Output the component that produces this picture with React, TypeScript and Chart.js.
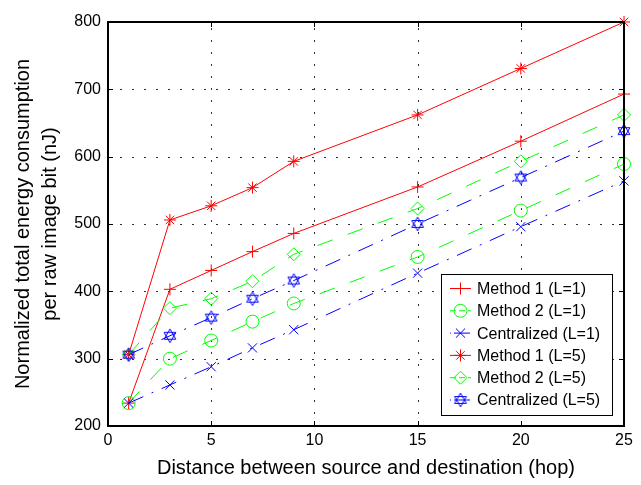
import React, { useEffect, useRef } from 'react';
import { Chart, registerables } from 'chart.js';
Chart.register(...registerables);

const hops = [1, 3, 5, 7, 9, 15, 20, 25];
const method1L1 = [234, 403, 431, 459, 486, 555, 623, 693];
const method2L1 = [234, 300, 327, 355, 382, 451, 520, 589];
const centralL1 = [234, 261, 288, 316, 343, 427, 496, 564];
const method1L5 = [306, 506, 527, 554, 593, 662, 731, 800];
const method2L5 = [306, 375, 389, 415, 455, 523, 593, 662];
const centralL5 = [306, 334, 361, 389, 416, 500, 569, 638];

const seriesLabels = [
  'Method 1 (L=1)',
  'Method 2 (L=1)',
  'Centralized (L=1)',
  'Method 1 (L=5)',
  'Method 2 (L=5)',
  'Centralized (L=5)',
];
const xTicks = [0, 5, 10, 15, 20, 25];
const yTicks = [200, 300, 400, 500, 600, 700, 800];
const xTitle = 'Distance between source and destination (hop)';
const yTitleLines = ['Normalized total energy consumption', 'per raw image bit (nJ)'];

const FONT = "'Liberation Sans', Arial, Helvetica, sans-serif";
const RED = '#ff0000';
const GREEN = '#00ff00';
const BLUE = '#0000ff';

function makeHexagram(color: string): HTMLCanvasElement {
  const c = document.createElement('canvas');
  c.width = 16;
  c.height = 16;
  const ctx = c.getContext('2d')!;
  ctx.strokeStyle = color;
  ctx.lineWidth = 1;
  const cx = 8, cy = 8, r = 6.8;
  const tri = (start: number) => {
    ctx.beginPath();
    for (let k = 0; k < 3; k++) {
      const a = ((start + k * 120) * Math.PI) / 180;
      const px = cx + r * Math.cos(a);
      const py = cy + r * Math.sin(a);
      if (k === 0) ctx.moveTo(px, py);
      else ctx.lineTo(px, py);
    }
    ctx.closePath();
    ctx.stroke();
  };
  tri(-90);
  tri(90);
  return c;
}

type Spec = { color: string; style: any; radius: number; dash: number[] };

function drawMarker(ctx: CanvasRenderingContext2D, spec: Spec, x: number, y: number) {
  const r = spec.radius;
  ctx.save();
  ctx.setLineDash([]);
  ctx.strokeStyle = spec.color;
  ctx.lineWidth = 1;
  ctx.beginPath();
  const s = spec.style;
  if (s === 'cross') {
    ctx.moveTo(x - r, y); ctx.lineTo(x + r, y);
    ctx.moveTo(x, y - r); ctx.lineTo(x, y + r);
  } else if (s === 'crossRot') {
    const d = r * Math.SQRT1_2;
    ctx.moveTo(x - d, y - d); ctx.lineTo(x + d, y + d);
    ctx.moveTo(x - d, y + d); ctx.lineTo(x + d, y - d);
  } else if (s === 'star') {
    const d = r * Math.SQRT1_2;
    ctx.moveTo(x - r, y); ctx.lineTo(x + r, y);
    ctx.moveTo(x, y - r); ctx.lineTo(x, y + r);
    ctx.moveTo(x - d, y - d); ctx.lineTo(x + d, y + d);
    ctx.moveTo(x - d, y + d); ctx.lineTo(x + d, y - d);
  } else if (s === 'circle') {
    ctx.arc(x, y, r, 0, Math.PI * 2);
  } else if (s === 'rectRot') {
    ctx.moveTo(x - r, y); ctx.lineTo(x, y - r); ctx.lineTo(x + r, y); ctx.lineTo(x, y + r); ctx.closePath();
  } else if (s instanceof HTMLCanvasElement) {
    ctx.drawImage(s, x - s.width / 2, y - s.height / 2);
  }
  ctx.stroke();
  ctx.restore();
}

export default function App() {
  const ref = useRef<HTMLCanvasElement | null>(null);

  useEffect(() => {
    const canvas = ref.current;
    if (!canvas) return;
    const hex = makeHexagram(BLUE);
    const DASHED = [16, 16];
    const DASHDOT = [16, 9, 2, 9];
    const specs: Spec[] = [
      { color: RED, style: 'cross', radius: 6, dash: [] },
      { color: GREEN, style: 'circle', radius: 6.5, dash: DASHED },
      { color: BLUE, style: 'crossRot', radius: 6.5, dash: DASHDOT },
      { color: RED, style: 'star', radius: 6, dash: [] },
      { color: GREEN, style: 'rectRot', radius: 6.5, dash: DASHED },
      { color: BLUE, style: hex, radius: 7, dash: DASHDOT },
    ];
    const seriesValues = [method1L1, method2L1, centralL1, method1L5, method2L5, centralL5];

    const datasets = seriesValues.map((vals, i) => ({
      label: seriesLabels[i],
      data: hops.map((h, k) => ({ x: h, y: vals[k] })),
      borderColor: specs[i].color,
      backgroundColor: 'transparent',
      pointBorderColor: specs[i].color,
      pointBackgroundColor: 'transparent',
      borderWidth: 1,
      pointBorderWidth: 1,
      pointRadius: specs[i].radius,
      pointStyle: specs[i].style,
      borderDash: specs[i].dash,
      tension: 0,
      clip: false as any,
      order: 5 - i,
    }));

    const frame = {
      id: 'matlabFrame',
      beforeDatasetsDraw(chart: any) {
        const { ctx, chartArea: a, scales } = chart;
        ctx.save();
        ctx.strokeStyle = 'rgba(0,0,0,0.8)';
        ctx.lineWidth = 1;
        ctx.setLineDash([2, 10]);
        xTicks.slice(1, -1).forEach((v) => {
          const px = Math.round(scales.x.getPixelForValue(v)) + 0.5;
          ctx.beginPath();
          ctx.moveTo(px, a.bottom);
          ctx.lineTo(px, a.top);
          ctx.stroke();
        });
        yTicks.slice(1, -1).forEach((v) => {
          const py = Math.round(scales.y.getPixelForValue(v)) + 0.5;
          ctx.beginPath();
          ctx.moveTo(a.left, py);
          ctx.lineTo(a.right, py);
          ctx.stroke();
        });
        ctx.restore();
      },
      afterDatasetsDraw(chart: any) {
        const { ctx, chartArea: a, scales } = chart;
        ctx.save();
        ctx.setLineDash([]);
        ctx.strokeStyle = '#000';
        ctx.lineWidth = 1;
        const tl = 5;
        xTicks.forEach((v) => {
          const px = Math.round(scales.x.getPixelForValue(v)) + 0.5;
          ctx.beginPath();
          ctx.moveTo(px, a.bottom); ctx.lineTo(px, a.bottom - tl);
          ctx.moveTo(px, a.top); ctx.lineTo(px, a.top + tl);
          ctx.stroke();
        });
        yTicks.forEach((v) => {
          const py = Math.round(scales.y.getPixelForValue(v)) + 0.5;
          ctx.beginPath();
          ctx.moveTo(a.left, py); ctx.lineTo(a.left + tl, py);
          ctx.moveTo(a.right, py); ctx.lineTo(a.right - tl, py);
          ctx.stroke();
        });
        ctx.lineWidth = 2;
        ctx.strokeRect(a.left, a.top, a.right - a.left, a.bottom - a.top);

        // legend
        const lx = 441, ly = 274, lw = 172, lh = 142;
        ctx.fillStyle = '#fff';
        ctx.fillRect(lx, ly, lw, lh);
        ctx.lineWidth = 1;
        ctx.strokeStyle = '#000';
        ctx.strokeRect(lx + 0.5, ly + 0.5, lw - 1, lh - 1);
        ctx.font = `16px ${FONT}`;
        ctx.textBaseline = 'middle';
        ctx.textAlign = 'left';
        specs.forEach((sp, i) => {
          const cy = 288.5 + i * 22.3;
          ctx.save();
          ctx.strokeStyle = sp.color;
          ctx.lineWidth = 1;
          ctx.setLineDash(sp.dash.length ? (sp.dash.length === 4 ? [1, 3, 16, 3] : [6, 3]) : []);
          ctx.beginPath();
          ctx.moveTo(450, cy);
          ctx.lineTo(471, cy);
          ctx.stroke();
          ctx.restore();
          drawMarker(ctx, sp, 460.5, cy);
          ctx.fillStyle = '#000';
          ctx.fillText(seriesLabels[i], 477, cy + 1);
        });
        ctx.restore();
      },
      afterDraw(chart: any) {
        const { ctx, chartArea: a } = chart;
        ctx.save();
        ctx.fillStyle = '#000';
        ctx.font = `20px ${FONT}`;
        ctx.textAlign = 'center';
        ctx.textBaseline = 'alphabetic';
        ctx.fillText(xTitle, (a.left + a.right) / 2, 474);
        ctx.textBaseline = 'middle';
        ctx.translate(0, (a.top + a.bottom) / 2);
        ctx.rotate(-Math.PI / 2);
        ctx.fillText(yTitleLines[0], 0, 23);
        ctx.fillText(yTitleLines[1], 0, 50);
        ctx.restore();
      },
    };

    const chart = new Chart(canvas, {
      type: 'line',
      data: { datasets: datasets as any },
      options: {
        responsive: false,
        animation: false,
        events: [],
        layout: { padding: { top: 22, right: 17, left: 0, bottom: 0 } },
        plugins: { legend: { display: false }, tooltip: { enabled: false } },
        scales: {
          x: {
            type: 'linear',
            min: 0,
            max: 25,
            afterBuildTicks: (s: any) => { s.ticks = xTicks.map((v) => ({ value: v })); },
            afterFit: (s: any) => { s.height = 59; },
            ticks: { font: { family: FONT, size: 16 }, color: '#000', padding: 5, maxRotation: 0, autoSkip: false },
            grid: { display: false, drawTicks: false },
            border: { display: false },
          },
          y: {
            type: 'linear',
            min: 200,
            max: 800,
            afterBuildTicks: (s: any) => { s.ticks = yTicks.map((v) => ({ value: v })); },
            afterFit: (s: any) => { s.width = 108; },
            ticks: { font: { family: FONT, size: 16 }, color: '#000', padding: 7, autoSkip: false },
            grid: { display: false, drawTicks: false },
            border: { display: false },
          },
        },
      },
      plugins: [frame],
    });
    return () => chart.destroy();
  }, []);

  return (
    <div style={{ position: 'absolute', left: 0, top: 0, width: 641, height: 485, background: '#fff' }}>
      <canvas ref={ref} width={641} height={485} style={{ display: 'block' }} />
    </div>
  );
}
